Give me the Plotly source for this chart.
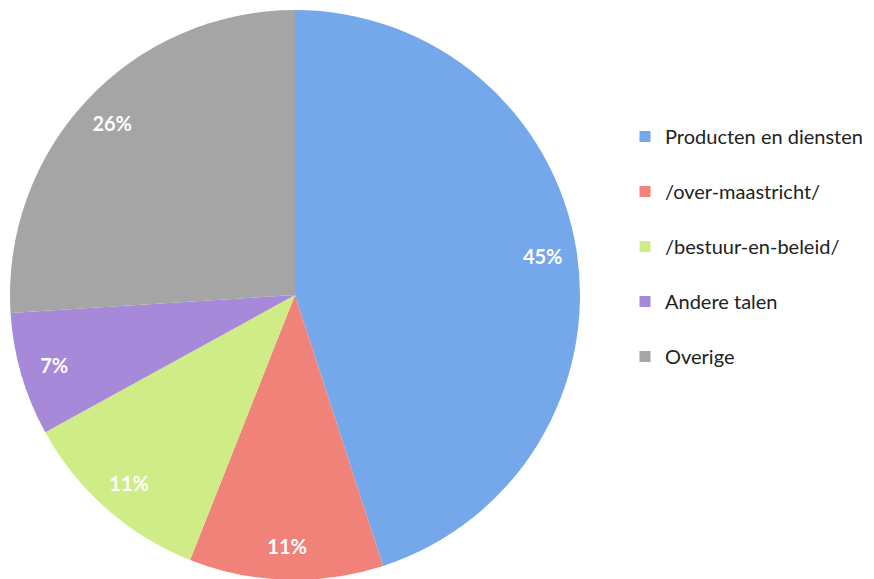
import plotly.graph_objects as go

labels = ["Producten en diensten", "/over-maastricht/", "/bestuur-en-beleid/", "Andere talen", "Overige"]
values = [45, 11, 11, 7, 26]
colors = ["#74A8EA", "#F08279", "#CFEC86", "#A689D8", "#A5A5A5"]

# page has an 8px body margin, so positions below are shifted by that
pie_domain = dict(x=[2 / 874, 572 / 874], y=[7 / 579, 577 / 579])

fig = go.Figure()

# the coloured slices
fig.add_trace(go.Pie(
    labels=labels,
    values=values,
    sort=False,
    direction="clockwise",
    rotation=0,
    marker=dict(colors=colors, line=dict(width=0)),
    textinfo="none",
    domain=pie_domain,
    showlegend=False,
    hoverinfo="label+percent",
))

# transparent ring on top, only to push the percentages out towards the rim
fig.add_trace(go.Pie(
    labels=labels,
    values=values,
    sort=False,
    direction="clockwise",
    rotation=0,
    hole=0.76,
    marker=dict(colors=["rgba(0,0,0,0)"] * len(values), line=dict(width=0)),
    textinfo="percent",
    textposition="inside",
    insidetextorientation="horizontal",
    textfont=dict(family="Lato", size=20, color="white", weight="bold"),
    domain=pie_domain,
    showlegend=False,
    hoverinfo="skip",
))

# legend entries, one group each so the spacing can be opened up
for name, col in zip(labels, colors):
    fig.add_trace(go.Scatter(
        x=[None], y=[None], mode="markers", name=name,
        legendgroup=name,
        marker=dict(symbol="square", size=11, color=col),
    ))

fig.update_xaxes(visible=False)
fig.update_yaxes(visible=False)
fig.update_layout(
    width=874, height=579,
    margin=dict(l=0, r=0, t=0, b=0),
    paper_bgcolor="white", plot_bgcolor="white",
    legend=dict(
        x=617 / 874, y=1 - 109 / 579, xanchor="left", yanchor="top",
        font=dict(family="Lato", size=20, color="#222222"),
        tracegroupgap=26, itemclick=False,
    ),
)

fig.write_html("out.html")
